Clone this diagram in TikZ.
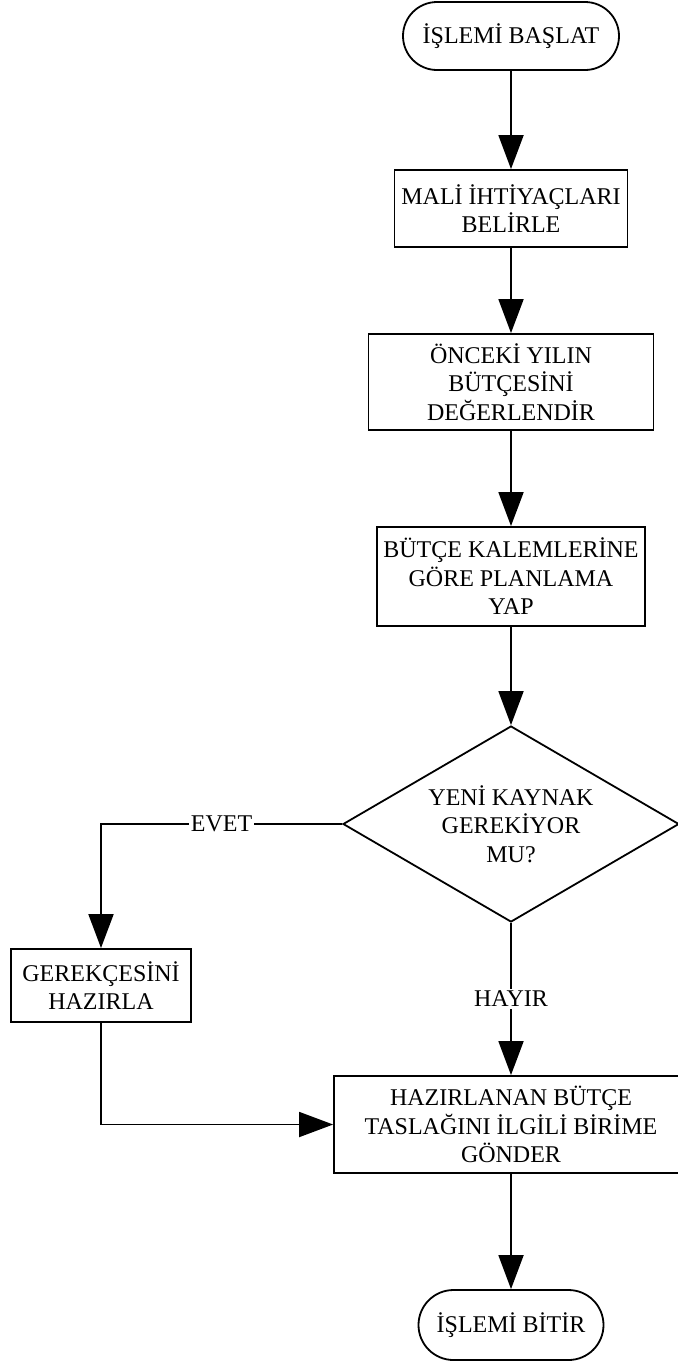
\documentclass[tikz,border=0pt]{standalone}
\usepackage{fontspec}
\setmainfont{Liberation Serif}
\usetikzlibrary{shapes.geometric,shapes.misc,arrows.meta}
\begin{document}
\begin{tikzpicture}[x=0.5pt,y=-0.5pt,line width=0.9pt,
		kutu/.style={draw,rectangle,align=center,inner sep=0pt,font=\fontsize{12}{14.25}\selectfont},
		uc/.style={kutu,rounded rectangle},
		karar/.style={kutu,diamond,aspect=1.7},
		ok/.style={-{Triangle[length=17pt,width=12.5pt]}},
		etiket/.style={fill=white,inner sep=1pt,font=\fontsize{12}{14.25}\selectfont}]
		\useasboundingbox (0,0) rectangle (678,1362);
		\node[uc,minimum width=108pt,minimum height=34pt] (basla) at (511,36) {İŞLEMİ BAŞLAT};
		\node[kutu,minimum width=116.5pt,minimum height=38.5pt] (mali) at (511,208.5) {MALİ İHTİYAÇLARI\\BELİRLE};
		\node[kutu,minimum width=142.5pt,minimum height=48pt] (onceki) at (511,382) {ÖNCEKİ YILIN\\BÜTÇESİNİ\\DEĞERLENDİR};
		\node[kutu,minimum width=134pt,minimum height=49.5pt] (plan) at (511,576.5) {BÜTÇE KALEMLERİNE\\GÖRE PLANLAMA\\YAP};
		\node[karar,minimum width=168pt,minimum height=98pt] (kaynak) at (511,824) {YENİ KAYNAK\\GEREKİYOR\\MU?};
		\node[kutu,minimum width=90pt,minimum height=36.5pt] (gerekce) at (101,985.5) {GEREKÇESİNİ\\HAZIRLA};
		\node[kutu,minimum width=177pt,minimum height=48.5pt] (gonder) at (511,1124.5) {HAZIRLANAN BÜTÇE\\TASLAĞINI İLGİLİ BİRİME\\GÖNDER};
		\node[uc,minimum width=92.5pt,minimum height=35pt] (bitir) at (511,1325) {İŞLEMİ BİTİR};

		\draw[ok] (basla) -- (mali);
		\draw[ok] (mali) -- (onceki);
		\draw[ok] (onceki) -- (plan);
		\draw[ok] (plan) -- (kaynak);
		\draw[ok] (kaynak.west) -| node[etiket,pos=0.25] {EVET} (gerekce.north);
		\draw[ok] (kaynak.south) -- node[etiket] {HAYIR} (gonder.north);
		\draw[ok] (gerekce.south) |- (gonder.west);
		\draw[ok] (gonder) -- (bitir);
	\end{tikzpicture}
\end{document}
